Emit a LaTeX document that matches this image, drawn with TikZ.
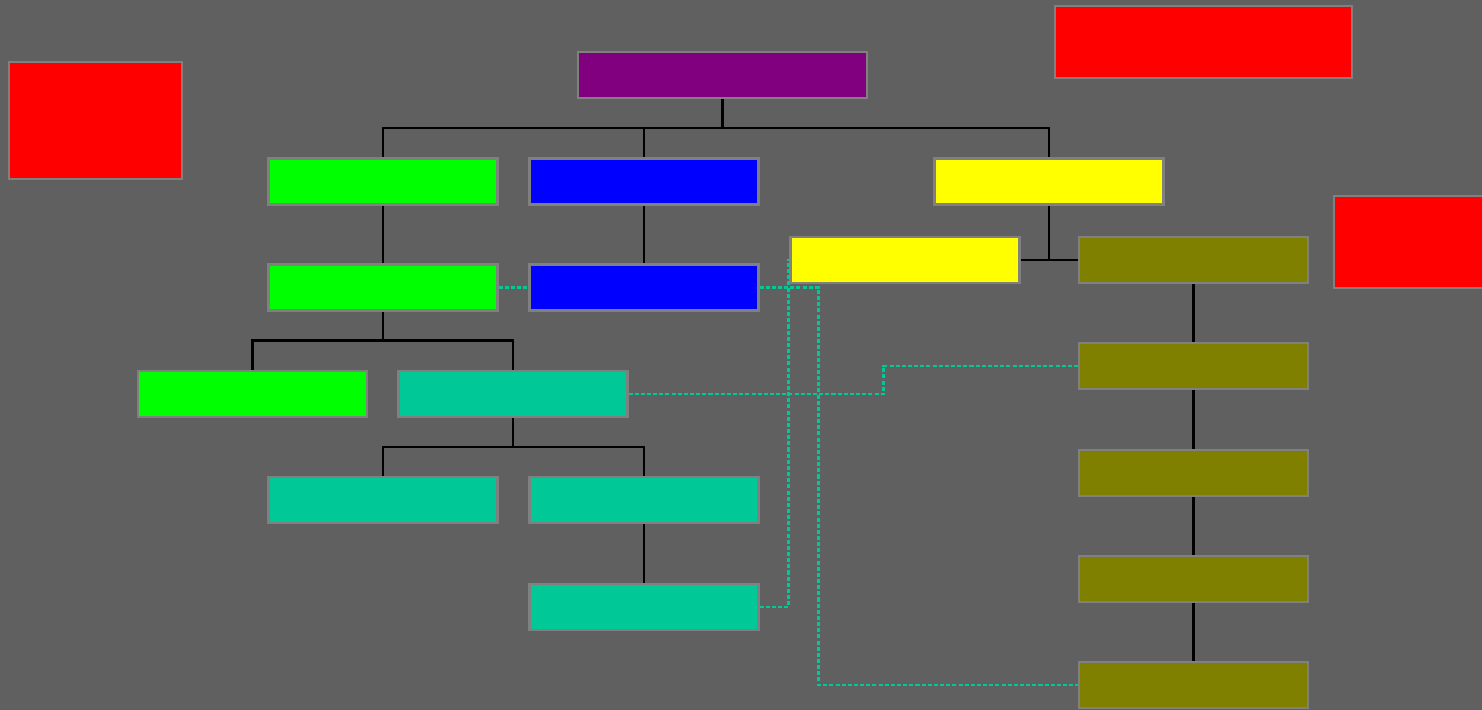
\documentclass[tikz,border=0pt]{standalone}
\usepackage{tikz}
\usepackage{xcolor}
\usetikzlibrary{positioning, calc}
\definecolor{cBack}{RGB}{96,96,96}
\definecolor{cEdge}{RGB}{128,128,128}
\definecolor{cPurple}{RGB}{128,0,128}
\definecolor{cGreen}{RGB}{0,255,0}
\definecolor{cBlue}{RGB}{0,0,255}
\definecolor{cYellow}{RGB}{255,255,0}
\definecolor{cOlive}{RGB}{128,128,0}
\definecolor{cTeal}{RGB}{0,200,150}
\definecolor{cRed}{RGB}{255,0,0}
\tikzset{
	box/.style={rectangle, draw=cEdge, line width=1.2pt, minimum width=4.58cm, minimum height=0.92cm, inner sep=0pt},
	tree/.style={draw=black, line width=1.2pt},
	link/.style={draw=cTeal, line width=1.2pt, dash pattern=on 2.3pt off 1.2pt},
	% loose red blocks
	note/.style={rectangle, draw=cEdge, line width=1.2pt, fill=cRed, inner sep=0pt},
}
\begin{document}
\begin{tikzpicture}[x=0.02cm, y=-0.02cm]
	\useasboundingbox (0,0) rectangle (1482,710);
	\fill[cBack] (0,0) rectangle (1482,710);
	% red blocks
	\node[note, minimum width=3.46cm, minimum height=2.34cm] (redA) at (95.5,120.5) {};
	\node[note, minimum width=5.94cm, minimum height=1.44cm] (redB) at (1203.5,42) {};
	\node[note, minimum width=3.46cm, minimum height=1.84cm] (redC) at (1420.5,242) {};
	% tree
	\node[box, fill=cPurple, minimum width=5.78cm] (root) at (722.5,75) {};
	\node[box, fill=cGreen] (g1) at (383,181.5) {};
	\node[box, fill=cBlue] (b1) at (644,181.5) {};
	\node[box, fill=cYellow] (y1) at (1049,181.5) {};
	\node[box, fill=cGreen] (g2) at (383,287.5) {};
	\node[box, fill=cBlue] (b2) at (644,287.5) {};
	\node[box, fill=cYellow] (y2) at (905,260) {};
	\node[box, fill=cGreen] (g3) at (252.5,394) {};
	\node[box, fill=cTeal] (t1) at (513,394) {};
	\node[box, fill=cTeal] (t2) at (383,500) {};
	\node[box, fill=cTeal] (t3) at (644,500) {};
	\node[box, fill=cTeal] (t4) at (644,607) {};
	\node[box, fill=cOlive] (o1) at (1193.5,260) {};
	\node[box, fill=cOlive] (o2) at (1193.5,366) {};
	\node[box, fill=cOlive] (o3) at (1193.5,473) {};
	\node[box, fill=cOlive] (o4) at (1193.5,579) {};
	\node[box, fill=cOlive] (o5) at (1193.5,685) {};
	% solid joins
	\draw[tree] (root.south) -- ++(0,29) coordinate (rj);
	\draw[tree] (rj) -| (g1.north);
	\draw[tree] (rj) -| (b1.north);
	\draw[tree] (rj) -| (y1.north);
	\draw[tree] (g1) -- (g2);
	\draw[tree] (b1) -- (b2);
	\draw[tree] (g2.south) -- ++(0,29) coordinate (gj);
	\draw[tree] (gj) -| (g3.north);
	\draw[tree] (gj) -| (t1.north);
	\draw[tree] (t1.south) -- ++(0,29) coordinate (tj);
	\draw[tree] (tj) -| (t2.north);
	\draw[tree] (tj) -| (t3.north);
	\draw[tree] (t3) -- (t4);
	\draw[tree] (y1.south) -- (y1.south |- y2.east);
	\draw[tree] (y2.east) -- (o1.west);
	\draw[tree] (o1) -- (o2);
	\draw[tree] (o2) -- (o3);
	\draw[tree] (o3) -- (o4);
	\draw[tree] (o4) -- (o5);
	% dotted links
	\draw[link] (g2.east) -- (b2.west);
	\draw[link] (b2.east) -- ++(59,0) |- (o5.west);
	\draw[link] (t1.east) -- ++(255,0) |- (o2.west);
	\draw[link] (t4.east) -- ++(29,0) |- (y2.west);
\end{tikzpicture}
\end{document}
